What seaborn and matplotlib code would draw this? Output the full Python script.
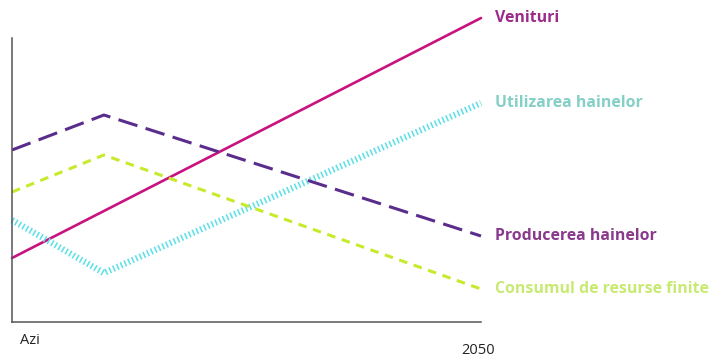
import matplotlib

matplotlib.use("Agg")
import matplotlib.pyplot as plt
import pandas as pd
import seaborn as sns

# time axis: "Azi" (today) -> 2050, kink shortly after today
x_points = [0.0, 0.196, 1.0]

venituri = [64, 111, 304]
producerea = [172, 207, 86]
consumul = [130, 167, 33]
utilizarea = [102, 49, 219]

series_names = ["Venituri", "Utilizarea hainelor", "Producerea hainelor", "Consumul de resurse finite"]
series_values = [venituri, utilizarea, producerea, consumul]
line_colors = ["#c8127f", "#5fe0e8", "#5a2d8c", "#c6ea2c"]
label_colors = ["#9c2a8a", "#84cfc6", "#8a3a8c", "#c8ea72"]

tick_labels = ["Azi", "2050"]

rows = []
for name, vals in zip(series_names, series_values):
    for xv, yv in zip(x_points, vals):
        rows.append({"t": xv, "val": yv, "serie": name})
df = pd.DataFrame(rows)

sns.set_theme(style="white")
plt.rcParams["font.family"] = ["Open Sans", "DejaVu Sans"]

fig = plt.figure(figsize=(7.09, 3.56), dpi=100)
ax = fig.add_axes([12 / 709, 34 / 356, 469 / 709, 312 / 356])

dash_styles = {
    "Venituri": "",
    "Utilizarea hainelor": (0.25, 0.4),
    "Producerea hainelor": (6.5, 2.8),
    "Consumul de resurse finite": (2.8, 2.2),
}
widths = {
    "Venituri": 1.9,
    "Utilizarea hainelor": 4.6,
    "Producerea hainelor": 2.2,
    "Consumul de resurse finite": 2.2,
}

for name, col in zip(series_names, line_colors):
    sub = df[df["serie"] == name]
    sns.lineplot(data=sub, x="t", y="val", ax=ax, color=col, lw=widths[name],
                 estimator=None, sort=False)
    line = ax.lines[-1]
    if dash_styles[name]:
        line.set_dashes(dash_styles[name])
        line.set_dash_capstyle("butt")
    line.set_clip_on(False)

ax.set_xlim(0, 1)
ax.set_ylim(0, 312)
ax.set_xticks([])
ax.set_yticks([])
ax.set_xlabel("")
ax.set_ylabel("")
for s in ["top", "right"]:
    ax.spines[s].set_visible(False)
for s in ["left", "bottom"]:
    ax.spines[s].set_color("#555555")
    ax.spines[s].set_linewidth(1.1)
ax.spines["left"].set_bounds(0, 284)

# series labels at the right end
for name, vals, col in zip(series_names, series_values, label_colors):
    ypos = vals[-1]
    ax.text(1.03, ypos, name, color=col, fontsize=11.4, fontweight="bold",
            va="center", ha="left", clip_on=False)

ax.text(0.017, -19, tick_labels[0], fontsize=10.5, color="#222222", va="center", ha="left")
ax.text(0.994, -28, tick_labels[1], fontsize=10.5, color="#222222", va="center", ha="center")

fig.savefig("out.png", dpi=100)
